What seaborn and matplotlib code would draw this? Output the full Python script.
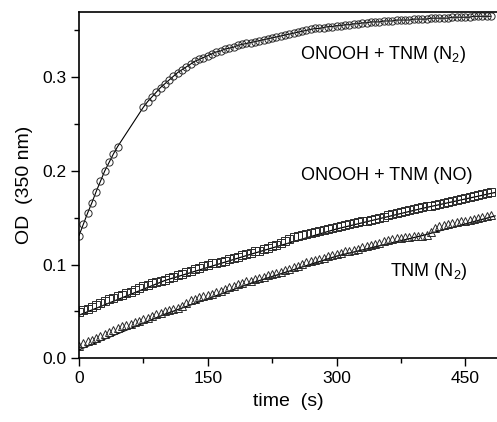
import numpy as np
import pandas as pd
import matplotlib
matplotlib.use("Agg")
import matplotlib.pyplot as plt
import seaborn as sns
from matplotlib.ticker import MultipleLocator

# ---------------- data ----------------
circ_t = [0, 5, 10, 15, 20, 25, 30, 35, 40, 45] + list(range(75, 485, 5))
circ_y = [0.131, 0.143, 0.155, 0.166, 0.178, 0.189, 0.200, 0.209, 0.218, 0.226,
          0.268, 0.274, 0.279, 0.284, 0.289, 0.293, 0.297, 0.301, 0.305, 0.308,
          0.311, 0.314, 0.317, 0.319, 0.321, 0.323, 0.325, 0.327, 0.328, 0.330,
          0.331, 0.332, 0.334, 0.335, 0.336, 0.337, 0.338, 0.339, 0.340, 0.341,
          0.342, 0.343, 0.344, 0.345, 0.346, 0.347, 0.348, 0.349, 0.350, 0.351,
          0.352, 0.352, 0.353, 0.354, 0.354, 0.355, 0.355, 0.356, 0.356, 0.357,
          0.357, 0.358, 0.358, 0.359, 0.359, 0.359, 0.360, 0.360, 0.360, 0.361,
          0.361, 0.361, 0.361, 0.362, 0.362, 0.362, 0.362, 0.363, 0.363, 0.363,
          0.363, 0.363, 0.364, 0.364, 0.364, 0.364, 0.364, 0.365, 0.365, 0.365,
          0.365, 0.365]

sq_t = list(range(0, 485, 5))
sq_y = [0.049, 0.051, 0.053, 0.055, 0.057, 0.059, 0.061, 0.063, 0.064, 0.066,
        0.068, 0.070, 0.071, 0.073, 0.075, 0.077, 0.078, 0.080, 0.081, 0.083,
        0.084, 0.086, 0.087, 0.089, 0.090, 0.092, 0.093, 0.095, 0.096, 0.098,
        0.100, 0.102, 0.102, 0.103, 0.104, 0.106, 0.107, 0.108, 0.110, 0.111,
        0.112, 0.114, 0.115, 0.117, 0.118, 0.120, 0.121, 0.123, 0.125, 0.127,
        0.129, 0.131, 0.132, 0.133, 0.134, 0.135, 0.136, 0.137, 0.138, 0.139,
        0.140, 0.141, 0.142, 0.143, 0.144, 0.145, 0.146, 0.147, 0.148, 0.149,
        0.150, 0.151, 0.153, 0.154, 0.155, 0.156, 0.157, 0.158, 0.159, 0.160,
        0.161, 0.162, 0.163, 0.164, 0.165, 0.166, 0.167, 0.168, 0.169, 0.170,
        0.171, 0.172, 0.173, 0.174, 0.175, 0.176, 0.177]

tri_t = list(range(0, 485, 5))
tri_y = [0.013, 0.016, 0.018, 0.020, 0.022, 0.024, 0.026, 0.028, 0.030, 0.032,
         0.034, 0.035, 0.037, 0.039, 0.040, 0.042, 0.043, 0.045, 0.047, 0.048,
         0.050, 0.051, 0.053, 0.054, 0.056, 0.059, 0.062, 0.063, 0.065, 0.066,
         0.068, 0.069, 0.071, 0.072, 0.074, 0.076, 0.077, 0.079, 0.080, 0.082,
         0.083, 0.085, 0.086, 0.087, 0.089, 0.090, 0.091, 0.092, 0.094, 0.095,
         0.097, 0.099, 0.101, 0.103, 0.104, 0.105, 0.106, 0.107, 0.109, 0.110,
         0.111, 0.112, 0.114, 0.115, 0.116, 0.117, 0.119, 0.120, 0.121, 0.122,
         0.123, 0.125, 0.126, 0.127, 0.128, 0.128, 0.129, 0.129, 0.130, 0.131,
         0.131, 0.132, 0.135, 0.139, 0.141, 0.142, 0.143, 0.144, 0.145, 0.146,
         0.147, 0.148, 0.149, 0.150, 0.151, 0.152, 0.153]

# fitted lines
sq_fit_t = [0, 100, 200, 300, 400, 485]
sq_fit_y = [0.046, 0.083, 0.111, 0.138, 0.160, 0.177]
tri_fit_t = [0, 100, 200, 300, 400, 485]
tri_fit_y = [0.009, 0.047, 0.080, 0.109, 0.131, 0.152]

labels = ["ONOOH + TNM (N$_2$)", "ONOOH + TNM (NO)", "TNM (N$_2$)"]
x_ticks = [0, 150, 300, 450]
y_ticks = [0.0, 0.1, 0.2, 0.3]

# ---------------- style ----------------
sns.set_style("ticks")
plt.rcParams["font.family"] = ["Liberation Sans", "DejaVu Sans"]
plt.rcParams["mathtext.fontset"] = "custom"
plt.rcParams["mathtext.rm"] = "Liberation Sans"
plt.rcParams["mathtext.it"] = "Liberation Sans:italic"
plt.rcParams["text.color"] = "black"
plt.rcParams["axes.labelcolor"] = "black"

fig = plt.figure(figsize=(4.97, 4.22), dpi=100)
ax = fig.add_axes([0.159, 0.151, 0.841, 0.8206])

edge = "#2a2a2a"
# lines
sns.lineplot(x=circ_t, y=circ_y, ax=ax, color="black", lw=0.8, estimator=None)
sns.lineplot(x=sq_fit_t, y=sq_fit_y, ax=ax, color="black", lw=0.9, estimator=None)
sns.lineplot(x=tri_fit_t, y=tri_fit_y, ax=ax, color="black", lw=0.9, estimator=None)
# markers
sns.lineplot(x=circ_t, y=circ_y, ax=ax, linestyle="", marker="o", ms=5.2,
             mfc="none", mec=edge, mew=0.7, estimator=None)
sns.lineplot(x=sq_t, y=sq_y, ax=ax, linestyle="", marker="s", ms=5.4,
             mfc="none", mec=edge, mew=0.7, estimator=None)
sns.lineplot(x=tri_t, y=tri_y, ax=ax, linestyle="", marker="^", ms=6.4,
             mfc="none", mec=edge, mew=0.7, estimator=None)

ax.set_xlim(0, 487)
ax.set_ylim(0.0, 0.3696)
ax.set_xticks(x_ticks)
ax.set_yticks(y_ticks)
ax.set_yticklabels([f"{v:.1f}" for v in y_ticks])
ax.xaxis.set_minor_locator(MultipleLocator(75))
ax.yaxis.set_minor_locator(MultipleLocator(0.05))
ax.tick_params(which="major", direction="out", length=6, width=1.0,
               labelsize=12.5, colors="black", labelcolor="black", pad=3)
ax.tick_params(which="minor", direction="out", length=3.5, width=1.0,
               colors="black")
for s in ["left", "bottom", "top"]:
    ax.spines[s].set_linewidth(1.2)
    ax.spines[s].set_color("black")
ax.spines["right"].set_visible(False)

ax.set_xlabel("time  (s)", fontsize=14, labelpad=5, color="black")
ax.set_ylabel("OD  (350 nm)", fontsize=14, labelpad=7, color="black")

ax.text(354, 0.324, labels[0], fontsize=13, ha="center", va="center", color="black")
ax.text(359, 0.195, labels[1], fontsize=13, ha="center", va="center", color="black")
ax.text(408, 0.093, labels[2], fontsize=13, ha="center", va="center", color="black")

fig.savefig("out.png", dpi=100)
